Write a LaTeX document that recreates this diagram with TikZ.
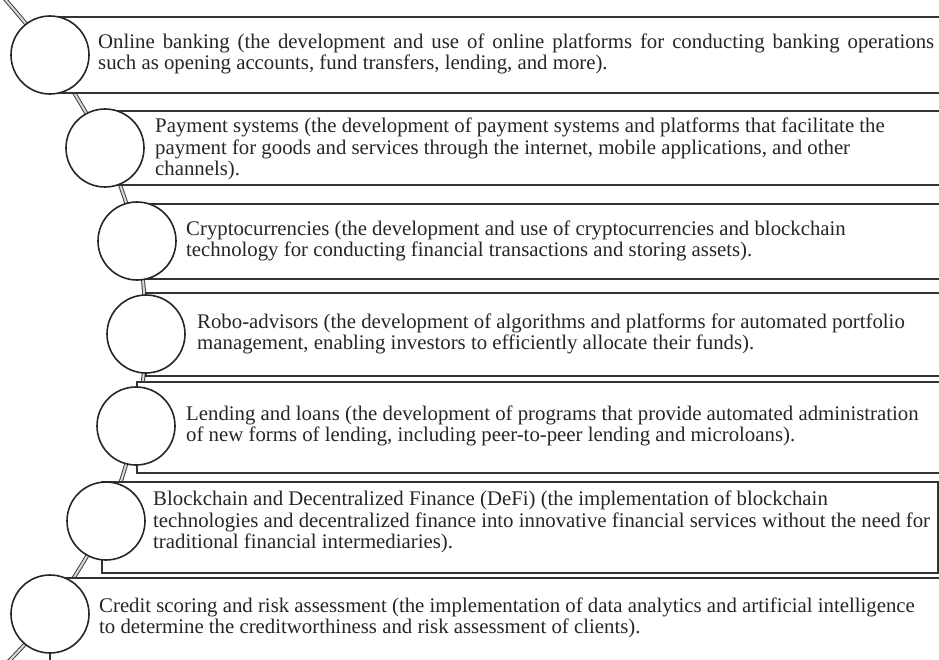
\documentclass[tikz,border=0pt]{standalone}
\usepackage{fontspec}
\setmainfont{Liberation Serif}
\usepackage{tikz}
\usetikzlibrary{backgrounds}

\begin{document}
\begin{tikzpicture}[
  x=1pt, y=-1pt,
  every node/.style={font=\fontsize{20.8}{21.6}\selectfont, text=black!85},
  band/.style={draw=black!80, line width=2.2pt, fill=white},
  disc/.style={circle, draw=black!85, line width=1.6pt, fill=white, minimum size=78pt, inner sep=0pt},
  spine/.style={draw=black!75, line width=1pt, double=gray!30, double distance=2pt},
  item/.style={anchor=west, align=left, inner sep=0pt}
]
  \useasboundingbox (0,0) rectangle (939,660);

  % Bands
  \draw[band] (50,17) rectangle (948,93);
  \draw[band] (105,111) rectangle (948,185);
  \draw[band] (137,204) rectangle (948,279);
  \draw[band] (146,293) rectangle (948,376);
  \draw[band] (137,382) rectangle (948,473);
  \draw[band] (102,482) rectangle (938,573);
  \draw[band] (50,578) rectangle (948,672);

  % Circles
  \node[disc] (c1) at (50,55) {};
  \node[disc] (c2) at (105,148) {};
  \node[disc] (c3) at (137,241) {};
  \node[disc] (c4) at (146,334) {};
  \node[disc] (c5) at (136,426) {};
  \node[disc] (c6) at (106,521) {};
  \node[disc] (c7) at (50,614) {};

  % Spine behind everything
  \begin{scope}[on background layer]
    \coordinate (s0) at (4,-2);
    \coordinate (s8) at (8,662);
    \draw[spine] plot[smooth] coordinates {(s0) (c1.center) (c2.center) (c3.center) (c4.center) (c5.center) (c6.center) (c7.center) (s8)};
  \end{scope}

  % Labels
  \node[item] (t1) at (98,54) {\makebox[836pt][s]{Online banking (the development and use of online platforms for conducting banking operations}\\such as opening accounts, fund transfers, lending, and more).};
  \node[item] (t2) at (155,149) {Payment systems (the development of payment systems and platforms that facilitate the\\payment for goods and services through the internet, mobile applications, and other\\channels).};
  \node[item] (t3) at (186,241) {Cryptocurrencies (the development and use of cryptocurrencies and blockchain\\technology for conducting financial transactions and storing assets).};
  \node[item] (t4) at (197,334) {Robo-advisors (the development of algorithms and platforms for automated portfolio\\management, enabling investors to efficiently allocate their funds).};
  \node[item] (t5) at (186,426) {Lending and loans (the development of programs that provide automated administration\\of new forms of lending, including peer-to-peer lending and microloans).};
  \node[item] (t6) at (153,522) {Blockchain and Decentralized Finance (DeFi) (the implementation of blockchain\\technologies and decentralized finance into innovative financial services without the need for\\traditional financial intermediaries).};
  \node[item] (t7) at (99,618) {Credit scoring and risk assessment (the implementation of data analytics and artificial intelligence\\to determine the creditworthiness and risk assessment of clients).};
\end{tikzpicture}
\end{document}
